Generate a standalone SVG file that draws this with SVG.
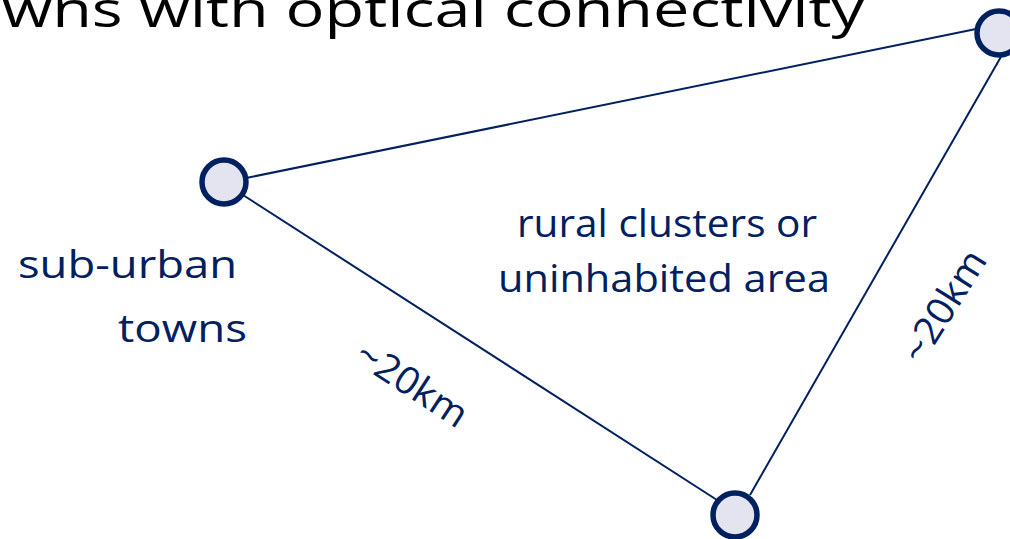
<svg xmlns="http://www.w3.org/2000/svg" width="1010" height="539" viewBox="0 0 1010 539">
<style>
.t{font-family:"Open Sans","Liberation Sans",sans-serif;fill:#002060}
.n{fill:#E4E4F0;stroke:#002060;stroke-width:5.5}
.e{stroke:#002060;stroke-width:2;fill:none}
</style>
<rect width="1010" height="539" fill="#fff"/>
<text x="2" y="27" font-family="Open Sans, Liberation Sans, sans-serif" font-size="50" fill="#000" textLength="862" lengthAdjust="spacingAndGlyphs">wns with optical connectivity</text>
<g id="edges">
<line class="e" x1="246" y1="178" x2="976" y2="29"/>
<line class="e" x1="243" y1="195" x2="717" y2="500"/>
<line class="e" x1="1002" y1="55" x2="750" y2="495"/>
</g>
<g id="node-suburban"><circle class="n" cx="224" cy="182" r="22"/></g>
<g id="node-top"><circle class="n" cx="999" cy="33" r="22"/></g>
<g id="node-bottom"><circle class="n" cx="735" cy="515" r="22"/></g>
<g id="labels">
<text class="t" x="667" y="237" font-size="38" text-anchor="middle" textLength="300" lengthAdjust="spacingAndGlyphs">rural clusters or</text>
<text class="t" x="664" y="292" font-size="38" text-anchor="middle" textLength="332" lengthAdjust="spacingAndGlyphs">uninhabited area</text>
<text class="t" x="18" y="278" font-size="38" textLength="219" lengthAdjust="spacingAndGlyphs">sub-urban</text>
<text class="t" x="118" y="342" font-size="38" textLength="129" lengthAdjust="spacingAndGlyphs">towns</text>
<text class="t" font-size="38" text-anchor="middle" transform="translate(405,395) rotate(33)" textLength="125" lengthAdjust="spacingAndGlyphs">~20km</text>
<text class="t" font-size="38" text-anchor="middle" transform="translate(955,313) rotate(-58)" textLength="125" lengthAdjust="spacingAndGlyphs">~20km</text>
</g>
</svg>
